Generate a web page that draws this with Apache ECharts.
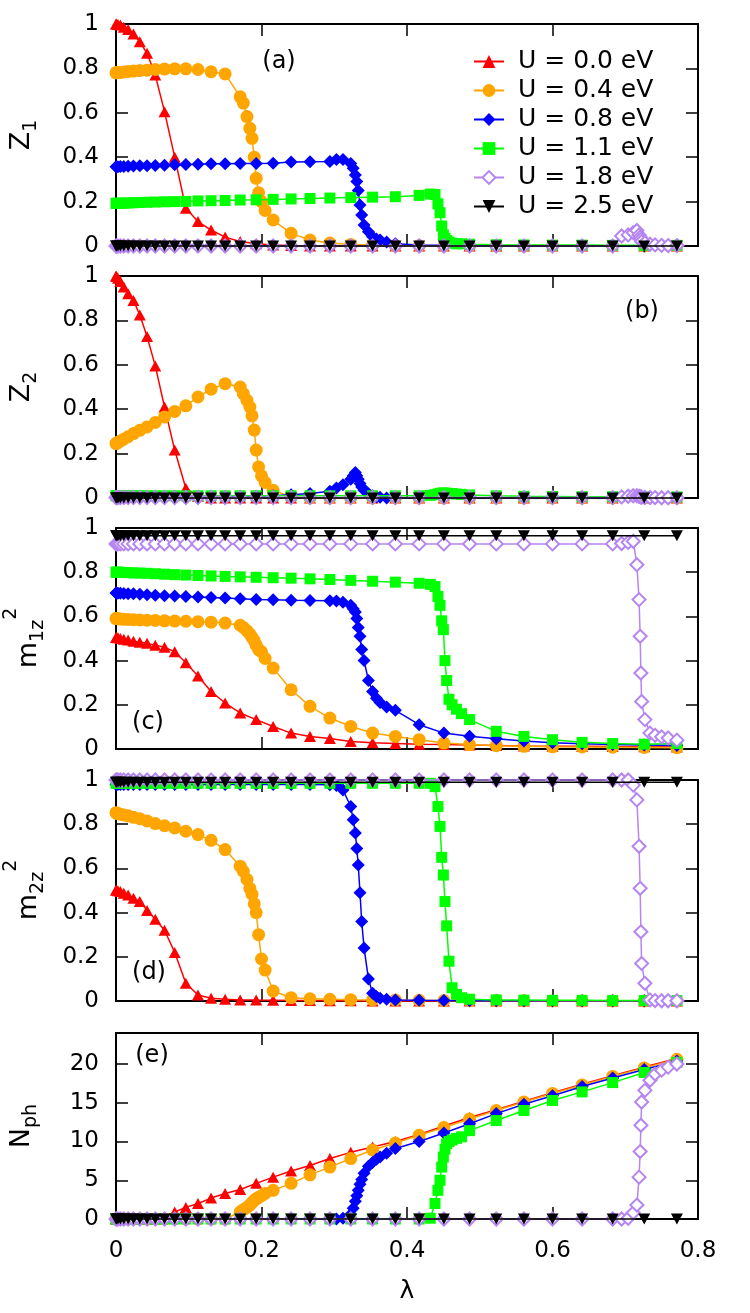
<!DOCTYPE html>
<html><head><meta charset="utf-8">
<script src="https://cdn.jsdelivr.net/npm/echarts@6.0.0/dist/echarts.min.js"></script>
<style>html,body{margin:0;padding:0;background:#fff}#c{width:750px;height:1313px}</style>
</head><body><div id="c"></div>
<script>
// ---------- data ----------
const uNames = ['U = 0.0 eV', 'U = 0.4 eV', 'U = 0.8 eV', 'U = 1.1 eV', 'U = 1.8 eV', 'U = 2.5 eV'];
const panelLabels = ['(a)', '(b)', '(c)', '(d)', '(e)'];

// lambda grids
const lamG = [0, 0.0007, 0.0027, 0.006, 0.0107, 0.0167, 0.024, 0.0327, 0.0427, 0.054, 0.0667, 0.0807, 0.096, 0.1127, 0.1307, 0.15, 0.1707, 0.1927, 0.216, 0.2407, 0.2667, 0.294, 0.3227, 0.3527, 0.384, 0.4167, 0.4507, 0.486, 0.5227, 0.5607, 0.6, 0.6407, 0.6827, 0.7261, 0.771];
const lamU04 = [0, 0.0007, 0.0027, 0.006, 0.0107, 0.0167, 0.024, 0.0327, 0.0427, 0.054, 0.0667, 0.0807, 0.096, 0.1127, 0.1307, 0.15, 0.1707, 0.175, 0.18, 0.184, 0.187, 0.19, 0.1927, 0.196, 0.2, 0.205, 0.216, 0.2407, 0.2667, 0.294, 0.3227, 0.3527, 0.384, 0.4167, 0.4507, 0.486, 0.5227, 0.5607, 0.6, 0.6407, 0.6827, 0.7261, 0.771];
const lamU08 = [0, 0.0007, 0.0027, 0.006, 0.0107, 0.0167, 0.024, 0.0327, 0.0427, 0.054, 0.0667, 0.0807, 0.096, 0.1127, 0.1307, 0.15, 0.1707, 0.1927, 0.216, 0.2407, 0.2667, 0.294, 0.303, 0.312, 0.3227, 0.326, 0.329, 0.331, 0.333, 0.3354, 0.3377, 0.341, 0.347, 0.3527, 0.358, 0.363, 0.372, 0.384, 0.4167, 0.4507, 0.486, 0.5227, 0.5607, 0.6, 0.6407, 0.6827, 0.7261, 0.771];
const lamU11 = [0, 0.0007, 0.0027, 0.006, 0.0107, 0.0167, 0.024, 0.0327, 0.0427, 0.054, 0.0667, 0.0807, 0.096, 0.1127, 0.1307, 0.15, 0.1707, 0.1927, 0.216, 0.2407, 0.2667, 0.294, 0.3227, 0.3527, 0.384, 0.4167, 0.432, 0.4385, 0.4425, 0.4454, 0.4477, 0.45, 0.4522, 0.4545, 0.4577, 0.462, 0.468, 0.475, 0.486, 0.5227, 0.5607, 0.6, 0.6407, 0.6827, 0.7261, 0.771];
const lamU18 = [0, 0.0007, 0.0027, 0.006, 0.0107, 0.0167, 0.024, 0.0327, 0.0427, 0.054, 0.0667, 0.0807, 0.096, 0.1127, 0.1307, 0.15, 0.1707, 0.1927, 0.216, 0.2407, 0.2667, 0.294, 0.3227, 0.3527, 0.384, 0.4167, 0.4507, 0.486, 0.5227, 0.5607, 0.6, 0.6407, 0.6827, 0.695, 0.704, 0.711, 0.716, 0.719, 0.7205, 0.7215, 0.7225, 0.727, 0.734, 0.741, 0.75, 0.759, 0.771];
const lamU25 = lamG;

// (a) Z1
const z1_U00 = [1, 1, 0.998, 0.995, 0.985, 0.975, 0.955, 0.92, 0.868, 0.77, 0.605, 0.40, 0.17, 0.11, 0.072, 0.04, 0.02, 0.01, 0.005, 0.002, 0, 0, 0, 0, 0, 0, 0, 0, 0, 0, 0, 0, 0, 0, 0];
const z1_U04 = [0.78, 0.78, 0.781, 0.782, 0.784, 0.786, 0.788, 0.79, 0.792, 0.795, 0.797, 0.798, 0.798, 0.795, 0.785, 0.775, 0.672, 0.644, 0.583, 0.53, 0.485, 0.40, 0.305, 0.24, 0.20, 0.16, 0.117, 0.057, 0.027, 0.013, 0.007, 0.004, 0.002, 0.001, 0, 0, 0, 0, 0, 0, 0, 0, 0];
const z1_U08 = [0.357, 0.357, 0.357, 0.358, 0.358, 0.359, 0.36, 0.361, 0.362, 0.363, 0.364, 0.366, 0.367, 0.368, 0.37, 0.371, 0.372, 0.372, 0.373, 0.378, 0.38, 0.381, 0.39, 0.39, 0.372, 0.35, 0.32, 0.29, 0.25, 0.185, 0.14, 0.095, 0.064, 0.042, 0.032, 0.027, 0.018, 0.01, 0.005, 0.003, 0.002, 0.001, 0, 0, 0, 0, 0, 0];
const z1_U11 = [0.192, 0.192, 0.192, 0.193, 0.193, 0.194, 0.195, 0.196, 0.197, 0.198, 0.199, 0.2, 0.201, 0.203, 0.204, 0.205, 0.207, 0.208, 0.21, 0.212, 0.214, 0.216, 0.218, 0.22, 0.222, 0.228, 0.234, 0.232, 0.19, 0.15, 0.09, 0.05, 0.035, 0.025, 0.018, 0.013, 0.01, 0.01, 0.008, 0.006, 0.005, 0.004, 0.004, 0.003, 0.003, 0.003];
const z1_U18 = [0, 0, 0, 0, 0, 0, 0, 0, 0, 0, 0, 0, 0, 0, 0, 0, 0, 0, 0, 0, 0, 0, 0, 0, 0, 0, 0, 0, 0, 0, 0, 0, 0, 0.045, 0.05, 0.06, 0.07, 0.05, 0.04, 0.03, 0.02, 0.015, 0.008, 0.005, 0.003, 0.002, 0.002];
const z1_U25 = [0, 0, 0, 0, 0, 0, 0, 0, 0, 0, 0, 0, 0, 0, 0, 0, 0, 0, 0, 0, 0, 0, 0, 0, 0, 0, 0, 0, 0, 0, 0, 0, 0, 0, 0];

// (b) Z2
const z2_U00 = [1, 0.998, 0.99, 0.975, 0.95, 0.92, 0.89, 0.824, 0.727, 0.595, 0.41, 0.216, 0.044, 0.008, 0, 0, 0, 0, 0, 0, 0, 0, 0, 0, 0, 0, 0, 0, 0, 0, 0, 0, 0, 0, 0];
const z2_U04 = [0.245, 0.247, 0.25, 0.257, 0.265, 0.276, 0.29, 0.305, 0.32, 0.34, 0.365, 0.39, 0.415, 0.455, 0.49, 0.515, 0.50, 0.47, 0.44, 0.41, 0.37, 0.306, 0.216, 0.14, 0.10, 0.07, 0.035, 0.005, 0, 0, 0, 0, 0, 0, 0, 0, 0, 0, 0, 0, 0, 0, 0];
const z2_U08 = [0.008, 0.008, 0.008, 0.008, 0.008, 0.008, 0.008, 0.008, 0.008, 0.008, 0.008, 0.008, 0.008, 0.008, 0.008, 0.008, 0.008, 0.008, 0.01, 0.015, 0.02, 0.03, 0.045, 0.06, 0.085, 0.1, 0.115, 0.1, 0.085, 0.065, 0.05, 0.035, 0.02, 0.01, 0.005, 0.003, 0, 0, 0, 0, 0, 0, 0, 0, 0, 0, 0, 0];
const z2_U11 = [0.01, 0.01, 0.01, 0.01, 0.01, 0.01, 0.01, 0.01, 0.01, 0.01, 0.01, 0.01, 0.01, 0.01, 0.01, 0.01, 0.01, 0.01, 0.01, 0.01, 0.01, 0.01, 0.01, 0.01, 0.01, 0.01, 0.012, 0.015, 0.018, 0.02, 0.022, 0.022, 0.022, 0.021, 0.02, 0.02, 0.018, 0.016, 0.014, 0.01, 0.008, 0.007, 0.006, 0.006, 0.005, 0.005];
const z2_U18 = [0.002, 0.002, 0.002, 0.002, 0.002, 0.002, 0.002, 0.002, 0.002, 0.002, 0.002, 0.002, 0.002, 0.002, 0.002, 0.002, 0.002, 0.002, 0.002, 0.002, 0.002, 0.002, 0.002, 0.002, 0.002, 0.002, 0.002, 0.002, 0.002, 0.002, 0.002, 0.002, 0.002, 0.005, 0.008, 0.01, 0.01, 0.008, 0.006, 0.005, 0.004, 0.003, 0.002, 0.002, 0.001, 0.001, 0.001];
const z2_U25 = [0, 0, 0, 0, 0, 0, 0, 0, 0, 0, 0, 0, 0, 0, 0, 0, 0, 0, 0, 0, 0, 0, 0, 0, 0, 0, 0, 0, 0, 0, 0, 0, 0, 0, 0];

// (c) m1z^2
const m1_U00 = [0.505, 0.505, 0.503, 0.5, 0.497, 0.493, 0.488, 0.483, 0.478, 0.47, 0.46, 0.44, 0.39, 0.33, 0.26, 0.208, 0.163, 0.133, 0.102, 0.072, 0.057, 0.047, 0.034, 0.028, 0.025, 0.022, 0.02, 0.018, 0.016, 0.014, 0.013, 0.012, 0.011, 0.01, 0.009];
const m1_U04 = [0.59, 0.59, 0.589, 0.588, 0.587, 0.586, 0.585, 0.584, 0.583, 0.582, 0.58, 0.579, 0.578, 0.576, 0.574, 0.57, 0.56, 0.55, 0.535, 0.52, 0.505, 0.49, 0.47, 0.45, 0.44, 0.41, 0.366, 0.268, 0.193, 0.14, 0.102, 0.072, 0.057, 0.042, 0.027, 0.02, 0.015, 0.012, 0.01, 0.009, 0.008, 0.007, 0.006];
const m1_U08 = [0.706, 0.706, 0.705, 0.705, 0.704, 0.703, 0.702, 0.7, 0.698, 0.696, 0.694, 0.692, 0.69, 0.688, 0.686, 0.683, 0.68, 0.677, 0.675, 0.673, 0.672, 0.671, 0.67, 0.664, 0.65, 0.635, 0.62, 0.59, 0.55, 0.51, 0.45, 0.40, 0.31, 0.26, 0.23, 0.21, 0.19, 0.175, 0.11, 0.072, 0.058, 0.046, 0.036, 0.028, 0.024, 0.02, 0.018, 0.016];
const m1_U11 = [0.80, 0.80, 0.80, 0.799, 0.799, 0.798, 0.797, 0.796, 0.795, 0.793, 0.791, 0.789, 0.787, 0.785, 0.783, 0.781, 0.779, 0.777, 0.775, 0.773, 0.77, 0.767, 0.763, 0.759, 0.755, 0.75, 0.745, 0.735, 0.69, 0.65, 0.58, 0.54, 0.40, 0.31, 0.225, 0.20, 0.18, 0.16, 0.133, 0.08, 0.057, 0.042, 0.03, 0.025, 0.022, 0.025];
const m1_U18 = [0.928, 0.928, 0.928, 0.928, 0.928, 0.928, 0.928, 0.928, 0.928, 0.928, 0.928, 0.928, 0.928, 0.928, 0.928, 0.928, 0.928, 0.928, 0.928, 0.928, 0.928, 0.928, 0.928, 0.928, 0.928, 0.928, 0.928, 0.928, 0.928, 0.928, 0.928, 0.928, 0.928, 0.93, 0.935, 0.94, 0.834, 0.676, 0.51, 0.344, 0.215, 0.133, 0.072, 0.062, 0.055, 0.05, 0.04];
const m1_U25 = [0.965, 0.965, 0.965, 0.965, 0.965, 0.965, 0.965, 0.965, 0.965, 0.965, 0.965, 0.965, 0.965, 0.965, 0.965, 0.965, 0.965, 0.965, 0.965, 0.965, 0.965, 0.965, 0.965, 0.965, 0.965, 0.965, 0.965, 0.965, 0.965, 0.965, 0.965, 0.965, 0.965, 0.965, 0.965];

// (d) m2z^2
const m2_U00 = [0.502, 0.501, 0.499, 0.495, 0.488, 0.48, 0.465, 0.45, 0.41, 0.37, 0.32, 0.22, 0.08, 0.027, 0.012, 0.008, 0.005, 0.004, 0.003, 0.002, 0.002, 0.001, 0.001, 0, 0, 0, 0, 0, 0, 0, 0, 0, 0, 0, 0];
const m2_U04 = [0.852, 0.85, 0.848, 0.845, 0.842, 0.838, 0.831, 0.825, 0.815, 0.803, 0.793, 0.783, 0.768, 0.753, 0.727, 0.685, 0.61, 0.587, 0.55, 0.51, 0.483, 0.44, 0.40, 0.30, 0.19, 0.14, 0.045, 0.015, 0.01, 0.008, 0.006, 0.005, 0.004, 0.003, 0.002, 0.002, 0.001, 0.001, 0, 0, 0, 0, 0];
const m2_U08 = [0.98, 0.98, 0.98, 0.98, 0.98, 0.98, 0.98, 0.98, 0.98, 0.98, 0.98, 0.98, 0.98, 0.98, 0.98, 0.98, 0.98, 0.98, 0.98, 0.98, 0.98, 0.978, 0.975, 0.955, 0.88, 0.82, 0.76, 0.69, 0.615, 0.49, 0.36, 0.24, 0.1, 0.035, 0.02, 0.012, 0.008, 0.005, 0.003, 0.002, 0.001, 0.001, 0.001, 0.001, 0.001, 0.001, 0.001, 0.001];
const m2_U11 = [0.985, 0.985, 0.985, 0.985, 0.985, 0.985, 0.985, 0.985, 0.985, 0.985, 0.985, 0.985, 0.985, 0.985, 0.985, 0.985, 0.985, 0.985, 0.985, 0.985, 0.985, 0.985, 0.985, 0.985, 0.985, 0.985, 0.985, 0.97, 0.88, 0.79, 0.65, 0.57, 0.45, 0.34, 0.18, 0.06, 0.03, 0.015, 0.008, 0.005, 0.004, 0.003, 0.003, 0.002, 0.002, 0.002];
const m2_U18 = [1, 1, 1, 1, 1, 1, 1, 1, 1, 1, 1, 1, 1, 1, 1, 1, 1, 1, 1, 1, 1, 1, 1, 1, 1, 1, 1, 1, 1, 1, 1, 1, 1, 1, 1, 0.977, 0.91, 0.70, 0.51, 0.313, 0.17, 0.08, 0.005, 0.002, 0.001, 0.001, 0.001];
const m2_U25 = [0.99, 0.99, 0.99, 0.99, 0.99, 0.99, 0.99, 0.99, 0.99, 0.99, 0.99, 0.99, 0.99, 0.99, 0.99, 0.99, 0.99, 0.99, 0.99, 0.99, 0.99, 0.99, 0.99, 0.99, 0.99, 0.99, 0.99, 0.99, 0.99, 0.99, 0.99, 0.99, 0.99, 0.99, 0.99];

// (e) Nph
const nph_U00 = [0, 0, 0, 0, 0, 0, 0, 0, 0, 0, 0.2, 0.9, 1.5, 2.0, 2.7, 3.3, 3.8, 4.6, 5.4, 6.2, 6.9, 7.8, 8.6, 9.3, 10.0, 10.9, 12.0, 13.1, 14.1, 15.2, 16.3, 17.4, 18.5, 19.6, 20.7];
const nph_U04 = [0, 0, 0, 0, 0, 0, 0, 0, 0, 0, 0, 0, 0, 0, 0, 0, 0.9, 1.2, 1.5, 1.8, 2.1, 2.4, 2.6, 2.8, 3.0, 3.3, 3.7, 4.6, 5.7, 6.7, 7.8, 8.9, 9.8, 10.8, 11.8, 12.9, 14.0, 15.1, 16.2, 17.3, 18.4, 19.5, 20.6];
const nph_U08 = [0, 0, 0, 0, 0, 0, 0, 0, 0, 0, 0, 0, 0, 0, 0, 0, 0, 0, 0, 0, 0, 0, 0, 0.1, 0.6, 1.4, 2.3, 3.0, 3.7, 4.5, 5.1, 5.9, 6.8, 7.3, 7.7, 8.0, 8.5, 9.1, 10.0, 11.1, 12.3, 13.6, 14.8, 15.9, 17.1, 18.2, 19.3, 20.4];
const nph_U11 = [0, 0, 0, 0, 0, 0, 0, 0, 0, 0, 0, 0, 0, 0, 0, 0, 0, 0, 0, 0, 0, 0, 0, 0, 0, 0, 0.1, 2.0, 3.7, 5.0, 6.7, 8.0, 9.0, 9.7, 10.0, 10.2, 10.4, 10.6, 11.4, 12.7, 14.0, 15.3, 16.4, 17.6, 18.9, 20.2];
const nph_U18 = [0, 0, 0, 0, 0, 0, 0, 0, 0, 0, 0, 0, 0, 0, 0, 0, 0, 0, 0, 0, 0, 0, 0, 0, 0, 0, 0, 0, 0, 0, 0, 0, 0, 0, 0.1, 0.8, 1.8, 5.4, 8.7, 12.1, 15.1, 16.6, 17.9, 18.7, 19.2, 19.6, 20.0];
const nph_U25 = [0, 0, 0, 0, 0, 0, 0, 0, 0, 0, 0, 0, 0, 0, 0, 0, 0, 0, 0, 0, 0, 0, 0, 0, 0, 0, 0, 0, 0, 0, 0, 0, 0, 0, 0];

// ---------- layout / style ----------
const FONT = '"DejaVu Sans", sans-serif';
const lamBySeries = [lamG, lamU04, lamU08, lamU11, lamU18, lamU25];
const panelValues = [
  [z1_U00, z1_U04, z1_U08, z1_U11, z1_U18, z1_U25],
  [z2_U00, z2_U04, z2_U08, z2_U11, z2_U18, z2_U25],
  [m1_U00, m1_U04, m1_U08, m1_U11, m1_U18, m1_U25],
  [m2_U00, m2_U04, m2_U08, m2_U11, m2_U18, m2_U25],
  [nph_U00, nph_U04, nph_U08, nph_U11, nph_U18, nph_U25]
];
const panels = [
  {top: 24, height: 222, ymax: 1, yint: 0.2},
  {top: 276, height: 222, ymax: 1, yint: 0.2},
  {top: 528, height: 221, ymax: 1, yint: 0.2},
  {top: 780, height: 221, ymax: 1, yint: 0.2},
  {top: 1033, height: 186, ymax: 24, yint: 5}
];
const seriesStyle = [
  {symbol: 'triangle', size: [12, 11], color: '#ff0000', rotate: 0},
  {symbol: 'circle', size: 13, color: '#ffa500', rotate: 0},
  {symbol: 'diamond', size: 13, color: '#0000ff', rotate: 0},
  {symbol: 'rect', size: 11, color: '#00ff00', rotate: 0},
  {symbol: 'emptyDiamond', size: 13, color: '#b585f2', rotate: 0},
  {symbol: 'triangle', size: [12, 11], color: '#000000', rotate: 180}
];

const LEFT = 116, RIGHT = 52;
const grid = [], xAxis = [], yAxis = [], series = [];
const axisLine = {show: true, onZero: false, lineStyle: {color: '#000', width: 2}};
const axisTick = {show: true, inside: true, length: 12, lineStyle: {color: '#000', width: 1.5}};
panels.forEach((p, i) => {
  grid.push({left: LEFT, right: RIGHT, top: p.top, height: p.height});
  const last = i === panels.length - 1;
  xAxis.push({
    type: 'value', gridIndex: i, position: 'bottom', min: 0, max: 0.8, interval: 0.2,
    axisLine, axisTick, splitLine: {show: false},
    axisLabel: {show: last, margin: 21, fontFamily: FONT, fontSize: 23, color: '#000'},
    name: last ? 'λ' : '', nameLocation: 'middle', nameGap: 60,
    nameTextStyle: {fontFamily: FONT, fontSize: 25, color: '#000'}
  });
  xAxis.push({
    type: 'value', gridIndex: i, position: 'top', min: 0, max: 0.8, interval: 0.2,
    axisLine, axisTick, splitLine: {show: false}, axisLabel: {show: false}
  });
  yAxis.push({
    type: 'value', gridIndex: i, position: 'left', min: 0, max: p.ymax, interval: p.yint,
    axisLine, axisTick, splitLine: {show: false},
    axisLabel: {margin: 17, fontFamily: FONT, fontSize: 23, color: '#000', showMaxLabel: p.ymax === 1}
  });
  yAxis.push({
    type: 'value', gridIndex: i, position: 'right', min: 0, max: p.ymax, interval: p.yint,
    axisLine, axisTick, splitLine: {show: false}, axisLabel: {show: false}
  });
  panelValues[i].forEach((vals, s) => {
    const st = seriesStyle[s];
    const lam = lamBySeries[s];
    series.push({
      type: 'line', name: uNames[s], xAxisIndex: 2 * i, yAxisIndex: 2 * i,
      data: lam.map((x, k) => [x, vals[k]]),
      symbol: st.symbol, symbolSize: st.size, symbolRotate: st.rotate,
      showAllSymbol: true, clip: false, silent: true,
      lineStyle: {color: st.color, width: 1.5},
      itemStyle: st.symbol.indexOf('empty') === 0
        ? {color: st.color, borderColor: st.color, borderWidth: 1.6}
        : {color: st.color, borderWidth: 0},
      z: 2 + s
    });
  });
});

// rotated axis titles with sub/superscripts
const mctx = document.createElement('canvas').getContext('2d');
function vtitle(parts, gx, gy) {
  let W = 0;
  parts.forEach(p => { mctx.font = p.f + 'px "DejaVu Sans"'; p.w = mctx.measureText(p.t).width; W += p.w; });
  let x = -W / 2;
  const children = parts.map(p => {
    const el = {type: 'text', x: x, y: p.s - 0.346 * p.f,
      style: {text: p.t, font: p.f + 'px "DejaVu Sans"', fill: '#000',
        textAlign: 'left', textVerticalAlign: 'middle', align: 'left', verticalAlign: 'middle'}};
    x += p.w;
    return el;
  });
  return {type: 'group', x: gx, y: gy, rotation: Math.PI / 2, children, silent: true};
}
const titles = [
  vtitle([{t: 'Z', f: 27, s: 0}, {t: '1', f: 19, s: 7}], 31, 135),
  vtitle([{t: 'Z', f: 27, s: 0}, {t: '2', f: 19, s: 7}], 31, 387),
  vtitle([{t: 'm', f: 27, s: 0}, {t: '1z', f: 19, s: 7}, {t: '2', f: 19, s: -20}], 38, 638),
  vtitle([{t: 'm', f: 27, s: 0}, {t: '2z', f: 19, s: 7}, {t: '2', f: 19, s: -20}], 38, 890),
  vtitle([{t: 'N', f: 27, s: 0}, {t: 'ph', f: 19, s: 7}], 31, 1126)
];
const labelPos = [[279, 62], [642, 312], [148, 723], [149, 973], [152, 1056]];
const labels = panelLabels.map((t, i) => ({
  type: 'text', x: labelPos[i][0], y: labelPos[i][1], silent: true,
  style: {text: t, font: '24px "DejaVu Sans"', fill: '#000',
    textAlign: 'center', textVerticalAlign: 'middle', align: 'center', verticalAlign: 'middle'}
}));

const chart = echarts.init(document.getElementById('c'), null, {renderer: 'canvas'});
chart.setOption({
  animation: false,
  backgroundColor: '#fff',
  grid, xAxis, yAxis, series,
  legend: {
    data: uNames, orient: 'vertical', left: 468, top: 44,
    itemWidth: 30, itemHeight: 16, itemGap: 4, selectedMode: false,
    textStyle: {fontFamily: FONT, fontSize: 25, color: '#000', lineHeight: 25, padding: [0, 0, 0, 9]}
  },
  graphic: titles.concat(labels)
});
</script>
</body></html>
